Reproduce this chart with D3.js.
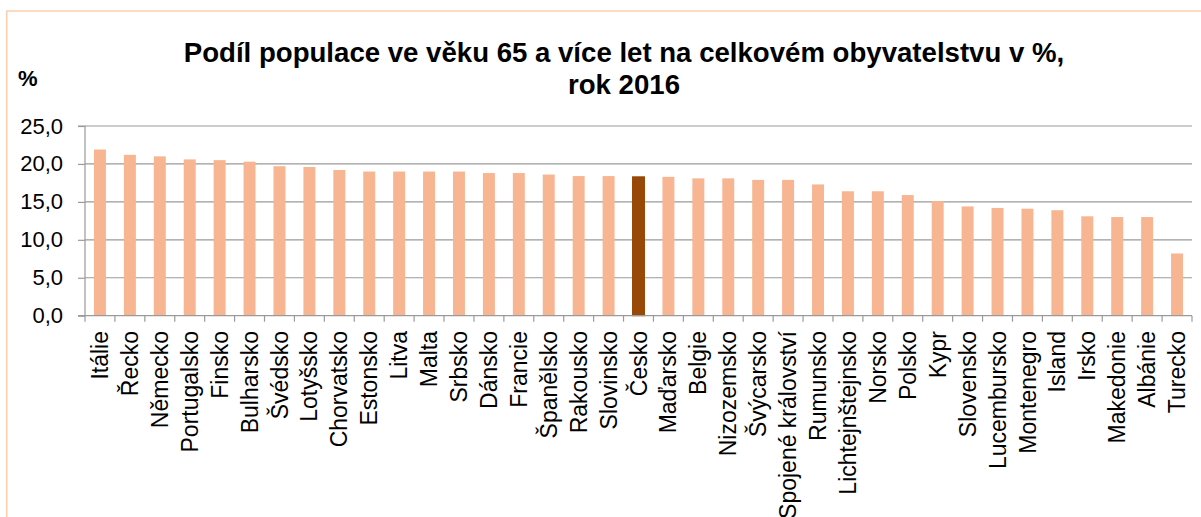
<!DOCTYPE html>
<html>
<head>
<meta charset="utf-8">
<script src="https://cdn.jsdelivr.net/npm/d3@7"></script>
<style>
  html, body { margin: 0; padding: 0; background: #fff; overflow: hidden; }
  svg { display: block; font-family: "Liberation Sans", Arial, sans-serif; }
</style>
</head>
<body>
<svg id="chart" width="1201" height="517"></svg>
<script>
const categories = ["Itálie","Řecko","Německo","Portugalsko","Finsko","Bulharsko","Švédsko","Lotyšsko","Chorvatsko","Estonsko","Litva","Malta","Srbsko","Dánsko","Francie","Španělsko","Rakousko","Slovinsko","Česko","Maďarsko","Belgie","Nizozemsko","Švýcarsko","Spojené království","Rumunsko","Lichtejnštejnsko","Norsko","Polsko","Kypr","Slovensko","Lucembursko","Montenegro","Island","Irsko","Makedonie","Albánie","Turecko"];
const values = [21.9,21.2,21.0,20.6,20.5,20.3,19.7,19.6,19.2,19.0,19.0,19.0,19.0,18.8,18.8,18.6,18.4,18.4,18.3,18.3,18.1,18.1,17.9,17.9,17.3,16.4,16.4,15.9,15.1,14.4,14.2,14.1,13.9,13.1,13.0,13.0,8.2];
const highlighted = ["Česko"];
const yTicks = [0,5,10,15,20,25];
const titleLines = ["Podíl populace ve věku 65 a více let na celkovém obyvatelstvu v %,", "rok 2016"];
const yUnit = "%";

(function () {
const svg = d3.select("#chart");
const pLeft = 85, pRight = 1192, pTop = 126, pBottom = 315.7;

// frame
svg.append("path")
  .attr("d", `M6.7,517 L6.7,11 L1201,11`)
  .attr("fill", "none").attr("stroke", "#FAD0AE").attr("stroke-width", 1.6);

const x = d3.scaleBand().domain(categories).range([pLeft, pRight]).paddingInner(0.6).paddingOuter(0.3);
const y = d3.scaleLinear().domain([0, 25]).range([pBottom, pTop]);

// gridlines
svg.append("g").selectAll("line").data(yTicks.filter(d => d > 0)).join("line")
  .attr("x1", pLeft).attr("x2", pRight)
  .attr("y1", d => y(d)).attr("y2", d => y(d))
  .attr("stroke", "#9a9a9a").attr("stroke-width", 1.2);

// bars
svg.append("g").selectAll("rect").data(categories).join("rect")
  .attr("x", d => x(d))
  .attr("width", x.bandwidth())
  .attr("y", (d, i) => y(values[i]))
  .attr("height", (d, i) => y(0) - y(values[i]))
  .attr("fill", d => highlighted.includes(d) ? "#984807" : "#F8B592")
  .attr("stroke", d => highlighted.includes(d) ? "#984807" : "none")
  .attr("stroke-width", 1);

// y axis
const yAxis = d3.axisLeft(y).tickValues(yTicks).tickSize(7).tickPadding(15)
  .tickFormat(d => d3.format(".1f")(d).replace(".", ","));
const gy = svg.append("g").attr("transform", `translate(${pLeft},0)`).call(yAxis);
gy.select(".domain").attr("stroke", "#9a9a9a").attr("stroke-width", 1.2).attr("d", `M-7,${pTop}H0V${pBottom}H-7`);
gy.selectAll(".tick line").attr("stroke", "#9a9a9a").attr("stroke-width", 1.2);
gy.selectAll(".tick text").attr("font-size", 22).attr("fill", "#000")
  .attr("font-family", '"Liberation Sans", Arial, sans-serif');

// x axis line and boundary ticks
const step = x.step();
const boundaries = d3.range(categories.length + 1).map(i => pLeft + i * step);
svg.append("line").attr("x1", pLeft).attr("x2", pRight).attr("y1", pBottom).attr("y2", pBottom)
  .attr("stroke", "#9a9a9a").attr("stroke-width", 1.2);
svg.append("g").selectAll("line").data(boundaries).join("line")
  .attr("x1", d => d).attr("x2", d => d).attr("y1", pBottom).attr("y2", pBottom + 6)
  .attr("stroke", "#9a9a9a").attr("stroke-width", 1.2);

// x labels
svg.append("g").selectAll("text").data(categories).join("text")
  .attr("transform", d => `translate(${x(d) + x.bandwidth() / 2},331) rotate(-90)`)
  .attr("text-anchor", "end").attr("dy", "0.35em")
  .attr("font-size", 23).attr("fill", "#000")
  .text(d => d);

// title
svg.append("g").selectAll("text").data(titleLines).join("text")
  .attr("x", 624).attr("y", (d, i) => 61.7 + i * 32)
  .attr("text-anchor", "middle").attr("font-size", 27.6).attr("font-weight", "bold")
  .text(d => d);

// unit label
svg.append("text").attr("x", 18).attr("y", 86).attr("font-size", 22).attr("font-weight", "bold").text(yUnit);
})();
</script>
</body>
</html>
